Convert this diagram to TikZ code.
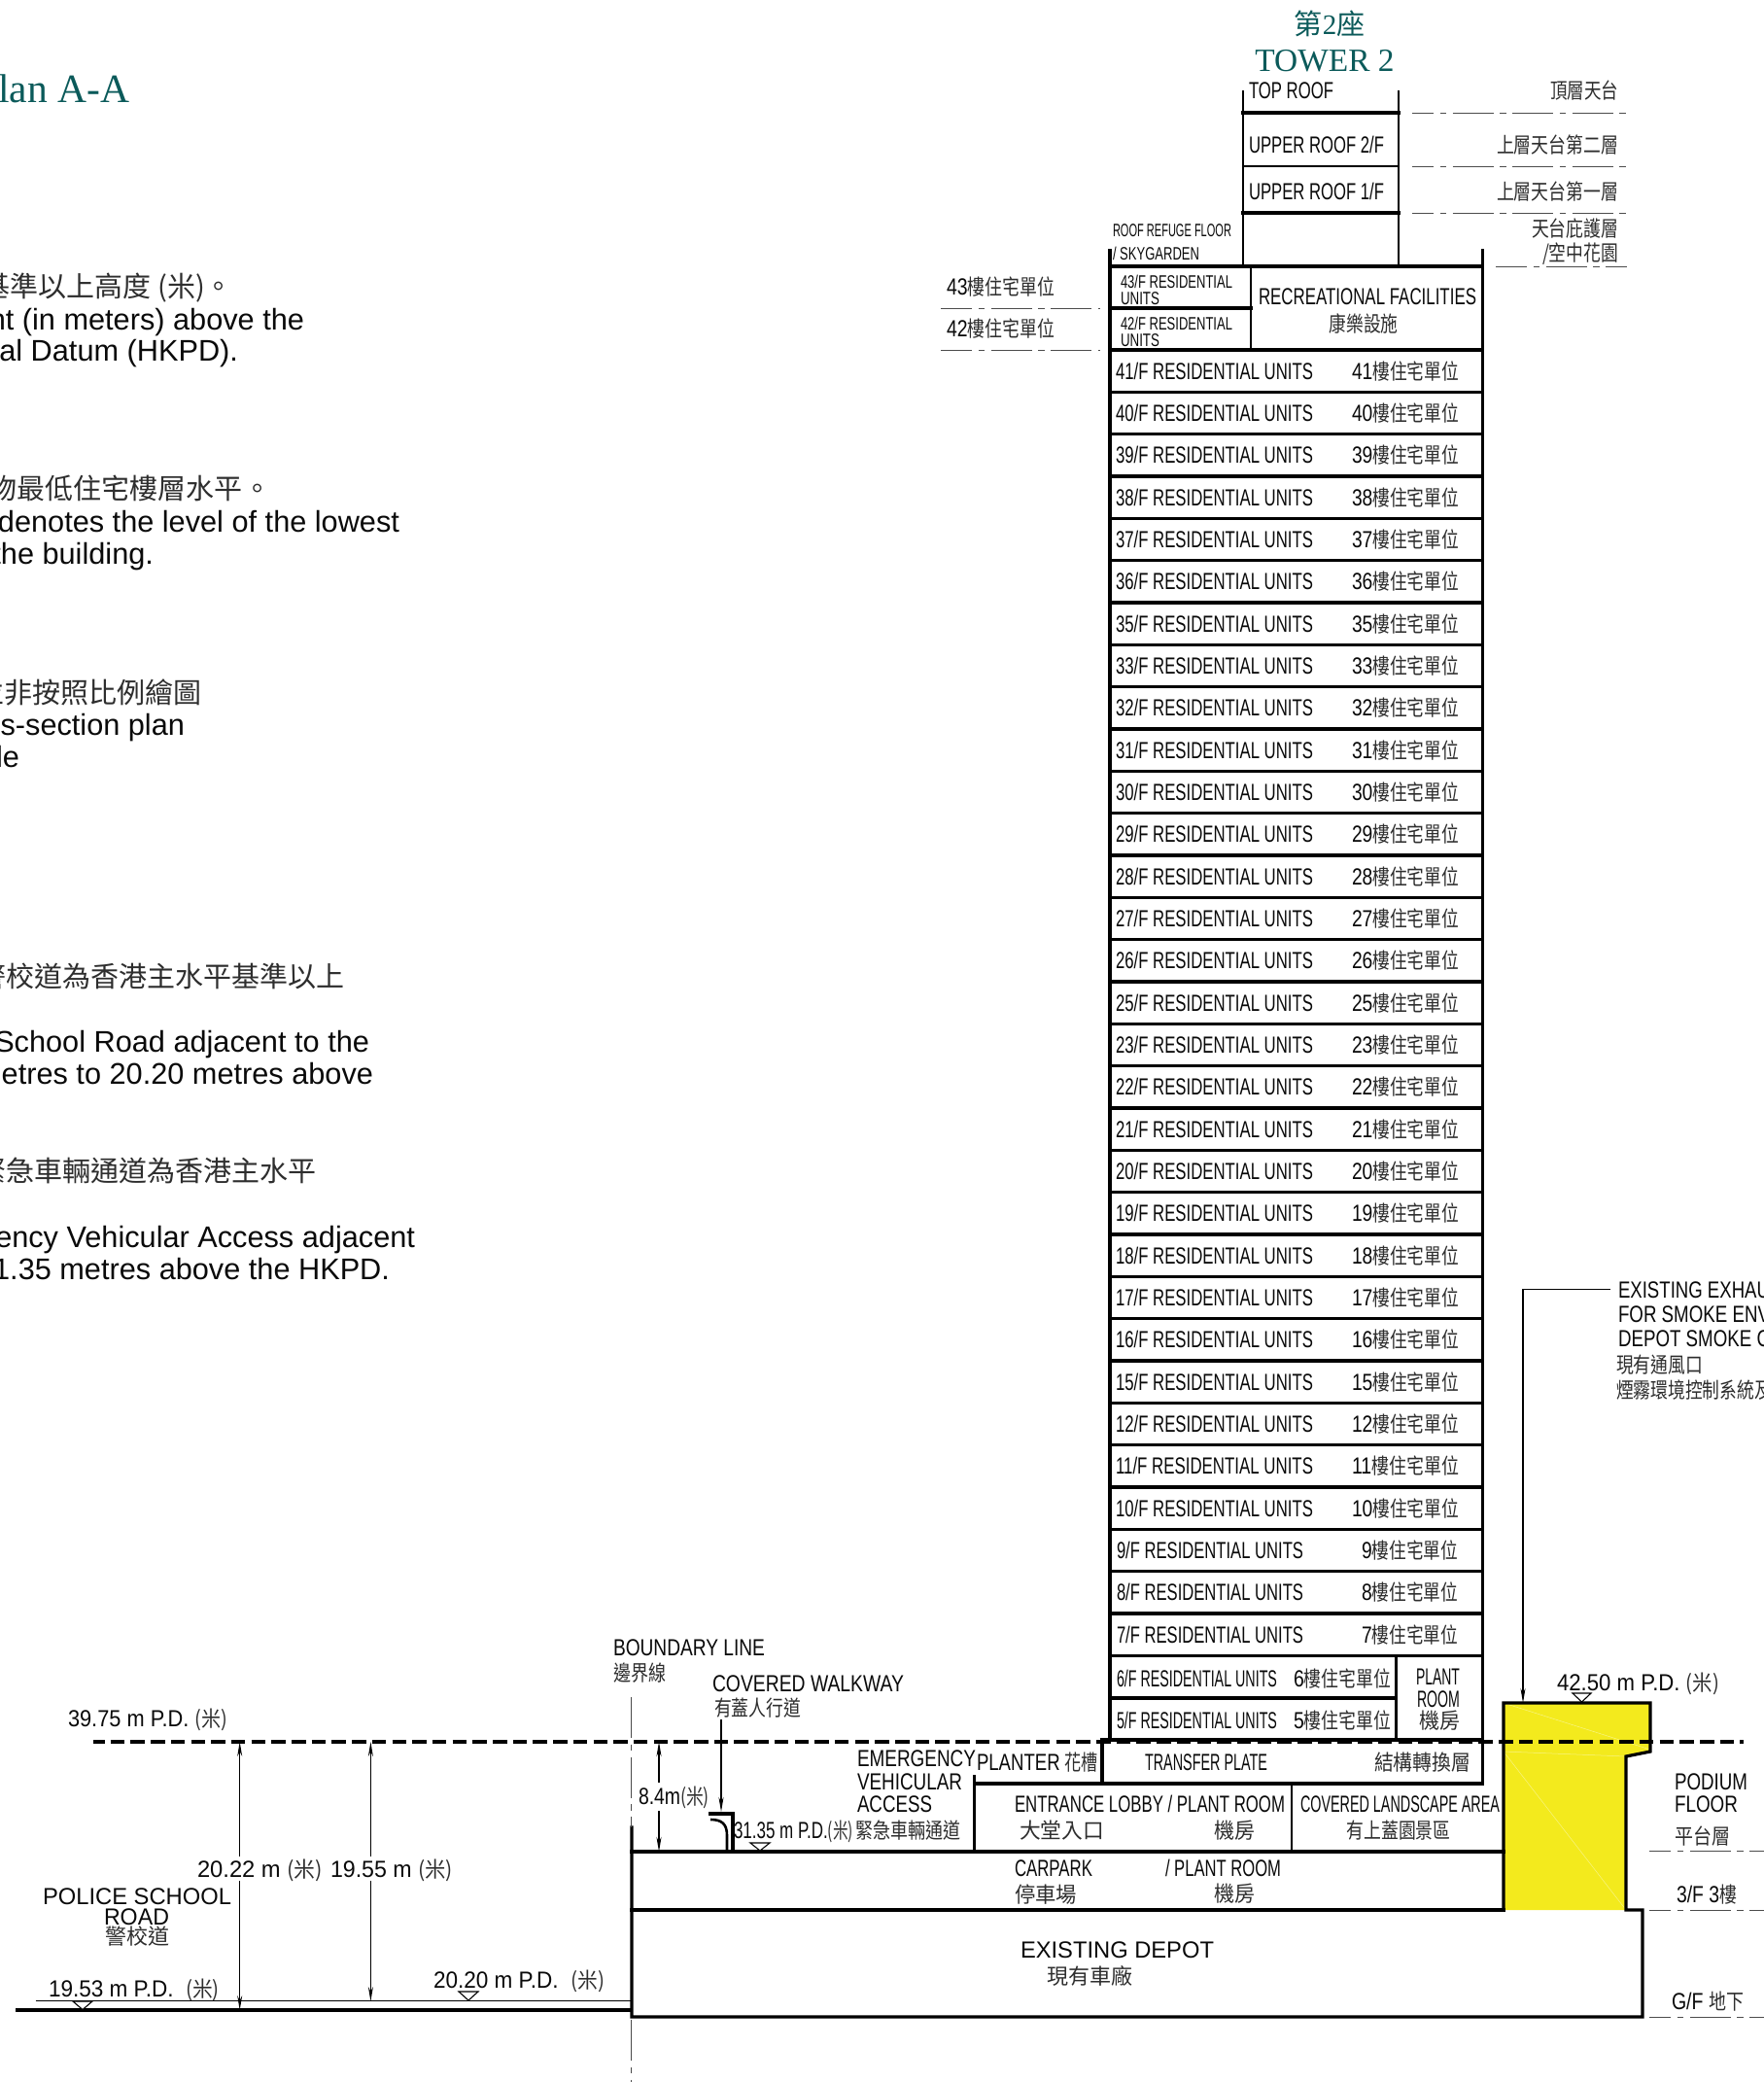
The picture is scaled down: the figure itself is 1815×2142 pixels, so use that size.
\documentclass[tikz,border=0pt]{standalone}
\usepackage{graphicx}
\usepackage{fontspec}
\usetikzlibrary{arrows.meta}
\setmainfont{Liberation Sans}
\newfontfamily\cjk[Scale=0.92]{Noto Sans CJK TC}
\newfontfamily\cjkb{Noto Sans CJK TC}
\newfontfamily\serif{Liberation Serif}
\definecolor{teal}{HTML}{0B5A5A}
\definecolor{ink}{HTML}{0A0A0A}
\definecolor{vent}{HTML}{F3EA1D}
\newcommand\z[1]{{\cjk\color{black!82}#1}}
\newcommand\bc[1]{{\cjkb\fontsize{29}{29}\selectfont\color{black!82}#1}}
\newcount\tcnt
% \Lab[size]{x left}{y centre}{width}{text}
\newcommand\Lab[5][24]{\global\advance\tcnt by 1
  \node[txt,anchor=base west,name=t\the\tcnt,font=\fontsize{#1}{#1}\selectfont] at (#2,{#3+0.36*#1}) {\resizebox{#4pt}{\height}{#5}};}
% \Body{x right}{y centre}{text}
\newcommand\Body[3]{\global\advance\tcnt by 1
  \node[txt,anchor=base east,name=t\the\tcnt,font=\fontsize{30.7}{30.7}\selectfont] at (#1,{#2+11}) {#3};}
\tikzset{
  txt/.style={inner sep=0pt,outer sep=0pt,text=ink},
  wall/.style={line width=3.2pt,draw=black,line cap=rect},
  thin wall/.style={line width=2.6pt,draw=black,line cap=rect},
  level/.style={line width=1pt,draw=black!70,dash pattern=on 42pt off 6.5pt on 6.5pt off 6.5pt},
  datum/.style={line width=4.6pt,draw=black,dash pattern=on 14.5pt off 6.2pt,dash phase=3pt},
  dim/.style={line width=1.3pt,draw=black},
  tip/.style={-{Stealth[length=15pt,width=5pt]}},
  lvlmark/.style={line width=1.1pt,draw=black,fill=white},
}
\begin{document}
\begin{tikzpicture}[x=1pt,y=-1pt]
\useasboundingbox (0,0) rectangle (1815,2142);
\clip (0,0) rectangle (1815,2142);
\fill[white] (0,0) rectangle (1815,2142);

% ---- left notes and title
\node[txt,anchor=base east,name=title,text=teal,font=\serif\fontsize{41.5}{41.5}\selectfont] at (133,105) {lan A-A};
\Body{240}{294}{\bc{基準以上高度 (米)。}}
\Body{313}{328}{ht (in meters) above the}
\Body{245}{360}{al Datum (HKPD).}
\Body{279}{502}{\bc{物最低住宅樓層水平。}}
\Body{411}{536}{denotes the level of the lowest}
\Body{158}{569}{the building.}
\Body{208}{712}{\bc{並非按照比例繪圖}}
\Body{190}{745}{ss-section plan}
\Body{20}{778}{le}
\Body{355}{1004}{\bc{警校道為香港主水平基準以上}}
\Body{380}{1071}{School Road adjacent to the}
\Body{384}{1104}{etres to 20.20 metres above}
\Body{326}{1204}{\bc{緊急車輛通道為香港主水平}}
\Body{427}{1272}{ency Vehicular Access adjacent}
\Body{401}{1305}{1.35 metres above the HKPD.}

% ---- yellow exhaust shaft
\fill[vent] (1547,1752) -- (1698,1752) -- (1698,1802) -- (1673,1807) -- (1673,1965) -- (1547,1965) -- cycle;
\draw[vent!55!white,line width=.5pt] (1547,1752) -- (1698,1800) (1547,1802) -- (1673,1807) (1547,1802) -- (1673,1965);
\draw[wall] (1547,1965) -- (1547,1752) -- (1698,1752) -- (1698,1802) -- (1673,1807) -- (1673,1965) -- (1690,1965) -- (1690,2075) -- (650,2075) -- (650,1880);

% ---- upper tower
\draw[thin wall] (1279,94) -- (1279,274);
\draw[thin wall] (1439,94) -- (1439,274);
\draw[wall,line width=4pt] (1279,116) -- (1439,116);
\draw[thin wall] (1279,171) -- (1439,171);
\draw[wall,line width=4pt] (1279,219) -- (1439,219);
\draw[wall] (1143,274) -- (1525.5,274);
\draw[wall] (1142,258) -- (1142,1790);
\draw[wall] (1525.5,258) -- (1525.5,1835);
\draw[thin wall] (1287,274) -- (1287,360);
\draw[wall] (1142,317) -- (1287,317);
\draw[wall] (1142,360) -- (1525.5,360);

% ---- residential rows
\foreach \n [count=\i] in {41,40,39,38,37,36,35,33,32,31,30,29,28,27,26,25,23,22,21,20,19,18,17,16,15,12,11,10,9,8,7}{
  \pgfmathsetmacro\yb{360+43.33*\i}
  \pgfmathsetmacro\yc{360+43.33*\i-21.66}
  \draw[wall] (1142,\yb) -- (1525.5,\yb);
  \ifnum\n>9
    \Lab{1148}{\yc}{203}{\n/F RESIDENTIAL UNITS}
    \Lab{1391}{\yc}{110}{\n\z{樓住宅單位}}
  \else
    \Lab{1149}{\yc}{192}{\n/F RESIDENTIAL UNITS}
    \Lab{1401}{\yc}{99}{\n\z{樓住宅單位}}
  \fi
}
\draw[wall] (1142,1747) -- (1436.5,1747);
\draw[wall] (1134,1790) -- (1525.5,1790);
\draw[thin wall] (1436.5,1703) -- (1436.5,1790);

% ---- podium
\draw[wall] (1134,1790) -- (1134,1835);
\draw[wall] (1002.5,1828) -- (1002.5,1905);
\draw[wall] (1002.5,1835) -- (1525.5,1835);
\draw[thin wall] (1329,1835) -- (1329,1905);
\draw[wall] (650,1905) -- (1547,1905);
\draw[wall] (650,1965) -- (1547,1965);

% parapet of covered walkway
\draw[wall] (731,1866) -- (754,1866) -- (754,1905);
\draw[line width=2.6pt] (731,1872) .. controls (742,1872) and (748,1876) .. (748,1888) -- (748,1905);

% road
\draw[line width=1.2pt] (36.5,2058.7) -- (650,2058.7);
\draw[line width=3.2pt] (16,2068) -- (650,2068);

% boundary line
\draw[level] (649,1746) -- (649,1880);
\draw[level] (649,2078) -- (649,2142);

% datum
\draw[datum] (96,1792) -- (1794,1792);

% level lines
\foreach \y in {116,171,219}{\draw[level,dash phase=20pt] (1453,\y) -- (1674,\y);}
\draw[level,dash phase=10pt] (1539,274) -- (1674,274);
\draw[level,dash phase=10pt] (968,317) -- (1132,317);
\draw[level,dash phase=10pt] (968,360.7) -- (1132,360.7);
\foreach \y in {1904,1965,2075}{\draw[level,dash phase=20pt] (1697,\y) -- (1815,\y);}

% dimensions
\draw[dim,{Stealth[length=15pt,width=5pt]}-] (246.7,1792) -- (246.7,1910);
\draw[dim,tip] (246.7,1935) -- (246.7,2068);
\draw[dim,{Stealth[length=15pt,width=5pt]}-] (381.4,1792) -- (381.4,1910);
\draw[dim,tip] (381.4,1935) -- (381.4,2059);
\draw[dim,{Stealth[length=15pt,width=5pt]}-] (678,1792) -- (678,1834);
\draw[dim,tip] (678,1863) -- (678,1905);
\draw[dim,tip] (742,1769) -- (742,1864);
\draw[dim,tip] (1657,1326.7) -- (1567,1326.7) -- (1567,1752);

% level markers
\draw[lvlmark] (75,2059) -- (95,2059) -- (85,2067.5) -- cycle;
\draw[lvlmark] (472,2049) -- (492,2049) -- (482,2058) -- cycle;
\draw[lvlmark] (772,1896) -- (792,1896) -- (782,1904) -- cycle;
\draw[lvlmark] (1618,1742) -- (1637,1742) -- (1627.5,1751) -- cycle;

% ---- tower heading
\node[txt,anchor=base,name=tw1,text=teal,font=\fontsize{29}{29}\selectfont] at (1368,35) {\cjkb 第\serif 2\cjkb 座};
\node[txt,anchor=base,name=tw2,text=teal,font=\serif\fontsize{33.4}{33.4}\selectfont] at (1363,73) {TOWER 2};

% ---- tower labels
\Lab{1285}{93}{87}{TOP ROOF}
\Lab{1285}{149}{139}{UPPER ROOF 2/F}
\Lab{1285}{197}{139}{UPPER ROOF 1/F}
\Lab{1595}{93}{70}{\z{頂層天台}}
\Lab{1540}{149}{125}{\z{上層天台第二層}}
\Lab{1540}{197}{125}{\z{上層天台第一層}}
\Lab{1576}{235}{89}{\z{天台庇護層}}
\Lab{1587}{260}{78}{\z{/空中花園}}
\Lab[18.5]{1145}{237}{122}{ROOF REFUGE FLOOR}
\Lab[18.5]{1145}{261}{89}{/ SKYGARDEN}
\Lab[18.5]{1153}{290}{115}{43/F RESIDENTIAL}
\Lab[18.5]{1153}{307}{40}{UNITS}
\Lab[18.5]{1153}{333}{115}{42/F RESIDENTIAL}
\Lab[18.5]{1153}{350}{40}{UNITS}
\Lab{1295}{305}{224}{RECREATIONAL FACILITIES}
\Lab{1367.5}{333}{71}{\z{康樂設施}}
\Lab{974}{295}{111}{43\z{樓住宅單位}}
\Lab{974}{338}{111}{42\z{樓住宅單位}}
\Lab{1149}{1727}{165}{6/F RESIDENTIAL UNITS}
\Lab{1331}{1727}{100}{6\z{樓住宅單位}}
\Lab{1149}{1770}{165}{5/F RESIDENTIAL UNITS}
\Lab{1331}{1770}{100}{5\z{樓住宅單位}}
\Lab{1457}{1725}{45}{PLANT}
\Lab{1458}{1748}{44}{ROOM}
\Lab{1460}{1770}{42}{\z{機房}}

% ---- podium labels
\Lab{1178}{1813}{126}{TRANSFER PLATE}
\Lab{1414}{1813}{99}{\z{結構轉換層}}
\Lab{1005}{1813}{125}{PLANTER \z{花槽}}
\Lab{882}{1809}{122}{EMERGENCY}
\Lab{882}{1833}{108}{VEHICULAR}
\Lab{882}{1856}{77}{ACCESS}
\Lab{755}{1883}{123}{31.35 m P.D.\z{(米)}}
\Lab{880}{1883}{108}{\z{緊急車輛通道}}
\Lab{1044}{1856}{278}{ENTRANCE LOBBY / PLANT ROOM}
\Lab{1049}{1883}{87}{\z{大堂入口}}
\Lab{1249}{1883}{42}{\z{機房}}
\Lab{1338}{1856}{205}{COVERED LANDSCAPE AREA}
\Lab{1385.5}{1883}{107}{\z{有上蓋園景區}}
\Lab{1044}{1922}{80}{CARPARK}
\Lab{1044}{1949}{64}{\z{停車場}}
\Lab{1199}{1922}{119}{/ PLANT ROOM}
\Lab{1249}{1948}{42}{\z{機房}}
\Lab{1050}{2006}{199}{EXISTING DEPOT}
\Lab{1077}{2033}{88}{\z{現有車廠}}

% ---- left labels
\Lab{631}{1695}{156}{BOUNDARY LINE}
\Lab{631}{1721}{54}{\z{邊界線}}
\Lab{733}{1732}{197}{COVERED WALKWAY}
\Lab{735}{1757}{89}{\z{有蓋人行道}}
\Lab{657}{1848}{73}{8.4m\z{(米)}}
\Lab{70}{1768}{164}{39.75 m P.D. \z{(米)}}
\Lab{203}{1923}{129}{20.22 m \z{(米)}}
\Lab{340}{1923}{126}{19.55 m \z{(米)}}
\Lab{44}{1951}{194}{POLICE SCHOOL}
\Lab{107}{1972}{67}{ROAD}
\Lab{108}{1992}{66}{\z{警校道}}
\Lab{50}{2046}{176}{19.53 m P.D.\ \ \z{(米)}}
\Lab{446}{2037}{176}{20.20 m P.D.\ \ \z{(米)}}

% ---- right labels
\Lab{1602}{1731}{167}{42.50 m P.D. \z{(米)}}
\Lab{1665}{1327}{156}{EXISTING EXHAU}
\Lab{1665}{1352}{156}{FOR SMOKE ENV}
\Lab{1665}{1377}{156}{DEPOT SMOKE C}
\Lab{1663}{1404}{89}{\z{現有通風口}}
\Lab{1663}{1430}{160}{\z{煙霧環境控制系統及}}
\Lab{1723}{1833}{75}{PODIUM}
\Lab{1723}{1856}{65}{FLOOR}
\Lab{1723}{1889}{57}{\z{平台層}}
\Lab{1725}{1949}{62}{3/F 3\z{樓}}
\Lab{1720}{2059}{74}{G/F \z{地下}}
\end{tikzpicture}
\end{document}
